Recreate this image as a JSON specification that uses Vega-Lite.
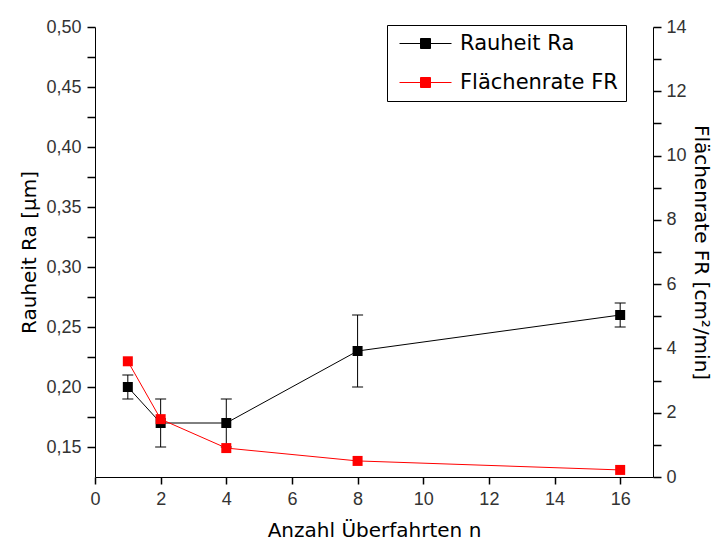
{
  "$schema": "https://vega.github.io/schema/vega-lite/v6.json",
  "width": 558,
  "height": 450,
  "autosize": {"type": "none"},
  "padding": {"left": 95, "top": 27, "right": 63, "bottom": 66},
  "background": "white",
  "config": {
    "view": {"stroke": null},
    "axis": {
      "grid": false,
      "domainColor": "black",
      "tickColor": "#000000",
      "tickOpacity": 1,
      "ticks": true,
      "domainWidth": 1,
      "tickWidth": 1.5,
      "labelFont": "Liberation Sans",
      "labelFontSize": 18,
      "labelColor": "#333333",
      "labelOverlap": false,
      "labelFlush": false,
      "titleFont": "DejaVu Sans",
      "titleFontSize": 20,
      "titleFontWeight": "normal",
      "titleColor": "black"
    }
  },
  "data": {
    "values": [
      {"n": 1, "Ra": 0.20, "lo": 0.19, "hi": 0.21, "FR": 3.6},
      {"n": 2, "Ra": 0.17, "lo": 0.15, "hi": 0.19, "FR": 1.8},
      {"n": 4, "Ra": 0.17, "lo": 0.15, "hi": 0.19, "FR": 0.9},
      {"n": 8, "Ra": 0.23, "lo": 0.20, "hi": 0.26, "FR": 0.5},
      {"n": 16, "Ra": 0.26, "lo": 0.25, "hi": 0.27, "FR": 0.22}
    ]
  },
  "resolve": {"scale": {"y": "independent"}},
  "layer": [
    {
      "mark": {"type": "line", "strokeWidth": 1},
      "encoding": {
        "x": {
          "field": "n", "type": "quantitative",
          "scale": {"domain": [0, 17], "nice": false, "zero": false},
          "axis": {
            "orient": "bottom",
            "values": [0, 1, 2, 3, 4, 5, 6, 7, 8, 9, 10, 11, 12, 13, 14, 15, 16],
            "tickSize": 7,
            "labelExpr": "datum.value % 2 == 0 ? datum.label : ''",
            "labelPadding": 6, "title": "Anzahl Überfahrten n", "titlePadding": 12,
            "encode": {"ticks": {"update": {"y2": {"signal": "datum.value % 2 == 0 ? 7 : 4"}}}}
          }
        },
        "y": {
          "field": "Ra", "type": "quantitative",
          "scale": {"domain": [0.125, 0.5], "nice": false, "zero": false},
          "axis": {
            "orient": "left",
            "values": [0.15, 0.175, 0.2, 0.225, 0.25, 0.275, 0.3, 0.325, 0.35, 0.375, 0.4, 0.425, 0.45, 0.475, 0.5],
            "tickSize": 8,
            "labelPadding": 6,
            "labelExpr": "round(datum.value * 1000) % 50 == 0 ? replace(format(datum.value, '.2f'), '.', ',') : ''",
            "title": "Rauheit Ra [µm]", "titlePadding": 6,
            "encode": {"ticks": {"update": {"x2": {"signal": "round(datum.value * 1000) % 50 == 0 ? -8 : -5"}}}}
          }
        },
        "color": {
          "datum": "Rauheit Ra",
          "scale": {"domain": ["Rauheit Ra", "Flächenrate FR"], "range": ["black", "#ff0000"]},
          "legend": {
            "orient": "none",
            "legendX": 292,
            "legendY": -2,
            "title": null,
            "symbolType": "M-2.6,0H-0.5M0.5,0H2.6M-0.5,-0.5H0.5V0.5H-0.5Z",
            "symbolSize": 400,
            "symbolStrokeWidth": 1,
            "symbolOffset": 20,
            "labelOffset": 24,
            "labelFont": "DejaVu Sans",
            "labelFontSize": 21,
            "labelColor": "black",
            "padding": 8,
            "rowPadding": 17,
            "strokeColor": "black",
            "fillColor": "white",
            "encode": {
              "symbols": {
                "update": {
                  "fill": {"scale": "color", "field": "value"},
                  "stroke": {"scale": "color", "field": "value"},
                  "opacity": {"value": 1}
                }
              }
            }
          }
        }
      }
    },
    {
      "mark": {"type": "rule", "color": "black", "strokeWidth": 1},
      "encoding": {
        "x": {"field": "n", "type": "quantitative", "scale": {"domain": [0, 17], "nice": false, "zero": false}},
        "y": {"field": "lo", "type": "quantitative", "scale": {"domain": [0.125, 0.5], "nice": false, "zero": false}, "axis": null},
        "y2": {"field": "hi"}
      }
    },
    {
      "mark": {"type": "tick", "orient": "horizontal", "size": 11, "thickness": 1, "color": "black", "opacity": 1},
      "encoding": {
        "x": {"field": "n", "type": "quantitative", "scale": {"domain": [0, 17], "nice": false, "zero": false}},
        "y": {"field": "lo", "type": "quantitative", "scale": {"domain": [0.125, 0.5], "nice": false, "zero": false}, "axis": null}
      }
    },
    {
      "mark": {"type": "tick", "orient": "horizontal", "size": 11, "thickness": 1, "color": "black", "opacity": 1},
      "encoding": {
        "x": {"field": "n", "type": "quantitative", "scale": {"domain": [0, 17], "nice": false, "zero": false}},
        "y": {"field": "hi", "type": "quantitative", "scale": {"domain": [0.125, 0.5], "nice": false, "zero": false}, "axis": null}
      }
    },
    {
      "mark": {"type": "square", "size": 100, "filled": true, "opacity": 1},
      "encoding": {
        "x": {"field": "n", "type": "quantitative", "scale": {"domain": [0, 17], "nice": false, "zero": false}},
        "y": {"field": "Ra", "type": "quantitative", "scale": {"domain": [0.125, 0.5], "nice": false, "zero": false}, "axis": null},
        "color": {"datum": "Rauheit Ra"}
      }
    },
    {
      "mark": {"type": "line", "strokeWidth": 1},
      "encoding": {
        "x": {"field": "n", "type": "quantitative", "scale": {"domain": [0, 17], "nice": false, "zero": false}},
        "y": {
          "field": "FR", "type": "quantitative",
          "scale": {"domain": [0, 14], "nice": false, "zero": false},
          "axis": {
            "orient": "right",
            "values": [0, 1, 2, 3, 4, 5, 6, 7, 8, 9, 10, 11, 12, 13, 14],
            "tickSize": 8,
            "labelExpr": "datum.value % 2 == 0 ? datum.label : ''",
            "labelPadding": 5,
            "title": "Flächenrate FR [cm²/min]", "titlePadding": 4,
            "encode": {"ticks": {"update": {"x2": {"signal": "datum.value % 2 == 0 ? 8 : 5"}}}}
          }
        },
        "color": {"datum": "Flächenrate FR"}
      }
    },
    {
      "mark": {"type": "square", "size": 100, "filled": true, "opacity": 1},
      "encoding": {
        "x": {"field": "n", "type": "quantitative", "scale": {"domain": [0, 17], "nice": false, "zero": false}},
        "y": {"field": "FR", "type": "quantitative", "scale": {"domain": [0, 14], "nice": false, "zero": false}, "axis": null},
        "color": {"datum": "Flächenrate FR"}
      }
    }
  ]
}
